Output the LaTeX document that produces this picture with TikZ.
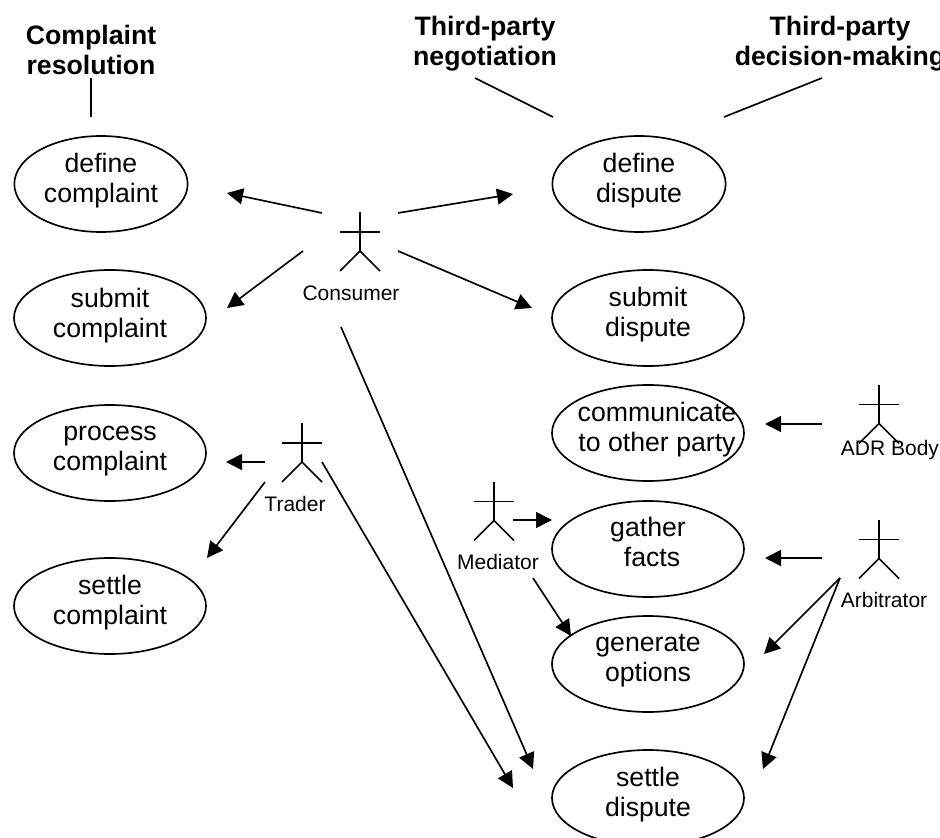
\documentclass[tikz,border=0pt]{standalone}
\usepackage{fontspec}
\setmainfont{Liberation Sans}
\usepackage{tikz}
\usetikzlibrary{arrows.meta,shapes.geometric}
\tikzset{
  usecase/.style={draw,ellipse,line width=1.25pt,inner sep=0pt,minimum width=144pt,minimum height=72pt},
  narrowcase/.style={usecase,minimum width=130pt},
  casetext/.style={align=center,font=\fontsize{20}{22.5}\selectfont,inner sep=0pt},
  headtext/.style={align=center,font=\fontsize{20}{22.5}\selectfont\bfseries,inner sep=0pt},
  actorbox/.style={rectangle,minimum width=30pt,minimum height=44.25pt,inner sep=0pt,outer sep=0pt},
  actorname/.style={font=\fontsize{15.75}{18}\selectfont,inner sep=0pt},
  assoc/.style={line width=1.25pt,-{Triangle[length=12pt,width=12pt]}},
  headline/.style={line width=1.25pt}
}
\begin{document}
\begin{tikzpicture}[x=0.75pt,y=-0.75pt]
\useasboundingbox (0,0) rectangle (940,838);
% headings
\node[headtext] (complainthead) at (91,50) {Complaint\\resolution};
\node[headtext] (negotiationhead) at (485,44) {Third-party\\negotiation};
\node[headtext] (decisionhead) at (840,44) {Third-party\\decision-making};
% use cases
\foreach \name/\x/\y/\kind/\dx/\dy/\txt in {
  definecomplaint/101/184/narrowcase/0/-3.5/{define\\complaint},
  submitcomplaint/110/318/usecase/0/-2.5/{submit\\complaint},
  processcomplaint/110/453/usecase/0/-1.5/{process\\complaint},
  settlecomplaint/110/606/usecase/0/-3/{settle\\complaint},
  definedispute/639/184/narrowcase/0/-3.5/{define\\dispute},
  submitdispute/648/318/usecase/0/-3/{submit\\dispute},
  communicate/648/433/usecase/9/-3/{communicate\\to other party},
  gatherfacts/648/549/usecase/0/-7/{gather\\\hspace*{6pt}facts},
  generateoptions/648/664/usecase/0/-3/{generate\\options},
  settledispute/648/798/usecase/0/-3/{settle\\dispute}}{
  \node[\kind] (\name) at (\x,\y) {};
  \node[casetext] (\name text) at (\x+\dx,\y+\dy) {\txt};
}
% actors
\foreach \name/\x/\y/\lx/\ly/\txt in {
  consumer/360/241.5/351/293/Consumer,
  trader/302/452.5/295/504/Trader,
  mediator/494/511/498/562/Mediator,
  adrbody/879/414/890/450/ADR Body,
  arbitrator/879/549/884/600/Arbitrator}{
  \node[actorbox] (\name) at (\x,\y) {};
  \coordinate (\name crotch) at ([shift={(0,9.5)}]\name.center);
  \draw[headline] (\name.north) -- (\name crotch);
  \draw[headline] ([shift={(-20,-9.5)}]\name.center) -- ([shift={(20,-9.5)}]\name.center);
  \draw[headline] (\name.south west) -- (\name crotch) -- (\name.south east);
  \node[actorname] (\name name) at (\lx,\ly) {\txt};
}
% headings to groups
\draw[headline] ([shift={(0,28)}]complainthead.center) -- ([shift={(-10,-67)}]definecomplaint.center);
\draw[headline] ([shift={(-10,34)}]negotiationhead.center) -- ([shift={(-86,-67)}]definedispute.center);
\draw[headline] ([shift={(-18,34)}]decisionhead.center) -- ([shift={(85,-67)}]definedispute.center);
% consumer
\draw[assoc] ([shift={(-38,-28.5)}]consumer.center) -- ([shift={(126,9)}]definecomplaint.center);
\draw[assoc] ([shift={(-57,9.5)}]consumer.center) -- ([shift={(117,-10)}]submitcomplaint.center);
\draw[assoc] ([shift={(38,-28.5)}]consumer.center) -- ([shift={(-126,10)}]definedispute.center);
\draw[assoc] ([shift={(38,9.5)}]consumer.center) -- ([shift={(-116,-10)}]submitdispute.center);
\draw[assoc] ([shift={(-19,85.5)}]consumer.center) -- ([shift={(-115,-29)}]settledispute.center);
% trader
\draw[assoc] ([shift={(-37,9.5)}]trader.center) -- ([shift={(116,9)}]processcomplaint.center);
\draw[assoc] ([shift={(-37,29.5)}]trader.center) -- ([shift={(97,-48)}]settlecomplaint.center);
\draw[assoc] ([shift={(20,9.5)}]trader.center) -- ([shift={(-135,-10)}]settledispute.center);
% mediator
\draw[assoc] ([shift={(19,9)}]mediator.center) -- ([shift={(-96,-29)}]gatherfacts.center);
\draw[assoc] ([shift={(39,67)}]mediator.center) -- ([shift={(-77,-28)}]generateoptions.center);
% adr body, arbitrator
\draw[assoc] ([shift={(-57,10)}]adrbody.center) -- ([shift={(117,-9)}]communicate.center);
\draw[assoc] ([shift={(-57,9)}]arbitrator.center) -- ([shift={(117,9)}]gatherfacts.center);
\draw[assoc] ([shift={(-39,29)}]arbitrator.center) -- ([shift={(116,-10)}]generateoptions.center);
\draw[assoc] ([shift={(-39,29)}]arbitrator.center) -- ([shift={(115,-29)}]settledispute.center);
\end{tikzpicture}
\end{document}
